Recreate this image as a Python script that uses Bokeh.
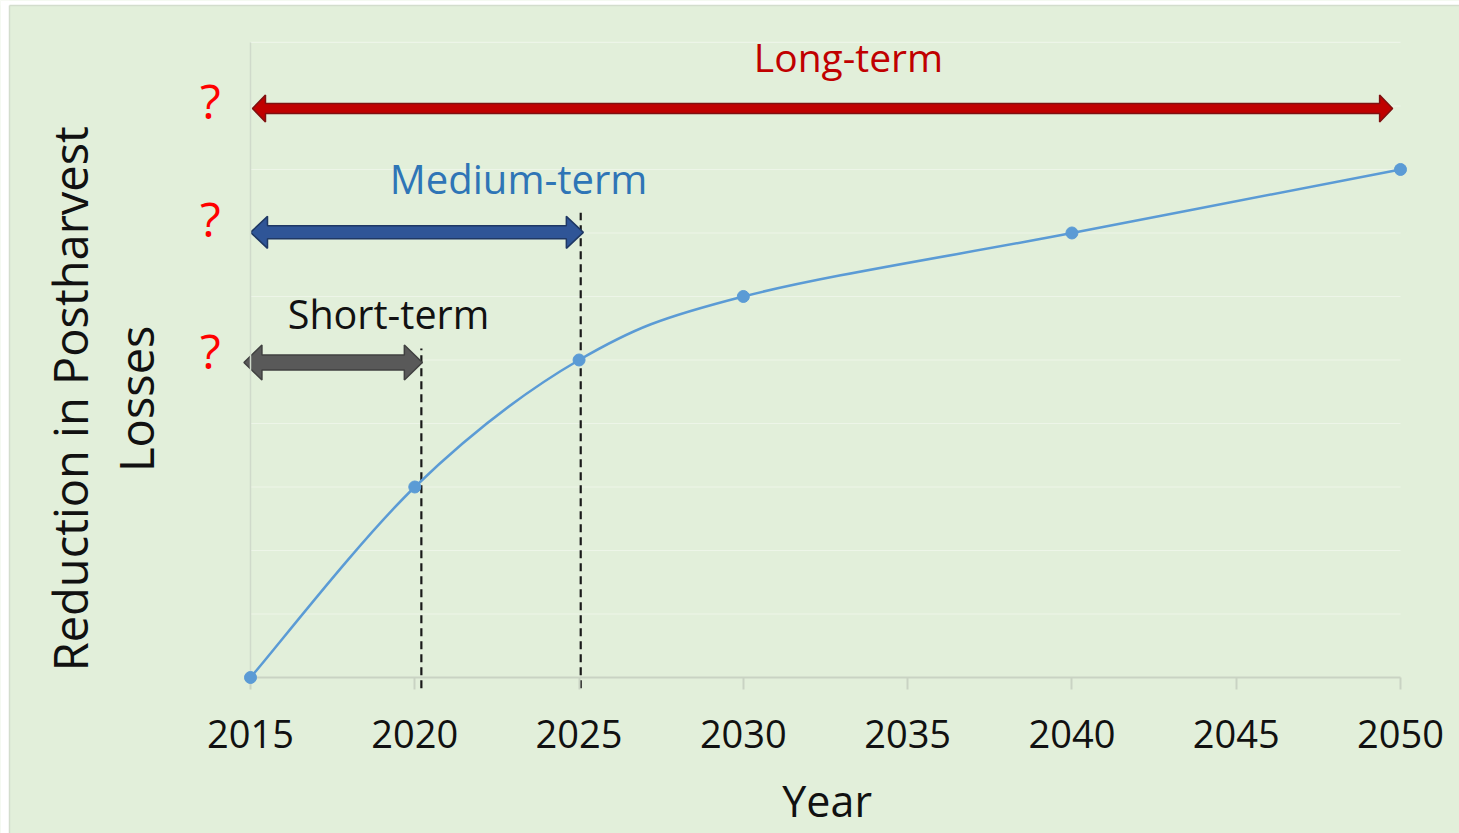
import numpy as np
from bokeh.plotting import figure
from bokeh.models import Label, FixedTicker
from bokeh.embed import file_html
from bokeh.resources import INLINE

# ---------------- data ----------------
years = [2015, 2020, 2025, 2030, 2040, 2050]
reduction = [0, 3, 5, 6, 7, 8]
tick_years = [2015, 2020, 2025, 2030, 2035, 2040, 2045, 2050]
grid_levels = [1, 2, 3, 4, 5, 6, 7, 8, 9, 10]

terms = ["Short-term", "Medium-term", "Long-term"]
term_start = [2014.8, 2015.0, 2015.06]
term_end = [2020.23, 2025.13, 2049.76]
term_level = [4.96, 7.01, 8.96]
term_label_x = [2019.2, 2023.16, 2033.2]
term_label_y = [5.72, 7.86, 9.78]
question_y = [5.15, 7.23, 9.09]
period_end_x = [2020.2, 2025.05]
period_end_top = [5.18, 7.32]

# ---------------- styles ----------------
BG = "#E2EFDA"
LINE_BLUE = "#5B9BD5"
term_fill = ["#595959", "#2F5597", "#C00000"]
term_edge = ["#404040", "#1F3864", "#7F1010"]
term_text = ["#111111", "#2E75B6", "#C00000"]
term_font = ["39.5px", "40px", "39px"]
arrow_px = [(15, 35, 18), (13, 32, 17), (10, 27, 13)]  # shaft, head height, head length

W, H = 1459, 833
x_rng = (2007.391, 2051.796)
y_rng = (-2.4567, 10.661)
XS = W / (x_rng[1] - x_rng[0])
YS = H / (y_rng[1] - y_rng[0])

p = figure(width=W, height=H, x_range=x_rng, y_range=y_rng,
           output_backend="svg", toolbar_location=None,
           min_border_left=0, min_border_right=0,
           min_border_top=0, min_border_bottom=0)
p.background_fill_color = BG
p.border_fill_color = BG
p.outline_line_color = None
p.xgrid.visible = False
p.ygrid.visible = False

# white page edge (top and left) like the reference image
edge_x = x_rng[0] + 9 / XS
edge_y = y_rng[1] - 5 / YS
p.quad(left=[x_rng[0], x_rng[0]], right=[edge_x, x_rng[1]],
       bottom=[y_rng[0], edge_y], top=[y_rng[1], y_rng[1]],
       fill_color="white", line_color=None)
p.segment(x0=[edge_x, edge_x], y0=[y_rng[0], edge_y], x1=[edge_x, x_rng[1]], y1=[edge_y, edge_y],
          line_color="#D3DDCD", line_width=1.5)

# gridlines
p.segment(x0=[tick_years[0]] * len(grid_levels), x1=[tick_years[-1]] * len(grid_levels),
          y0=grid_levels, y1=grid_levels, line_color="#EDF5E8", line_width=1.2)

# x axis
xa = p.xaxis[0]
xa.fixed_location = 0
xa.bounds = (tick_years[0], tick_years[-1])
xa.ticker = FixedTicker(ticks=tick_years)
xa.axis_line_color = "#C9D3C3"
xa.axis_line_width = 2
xa.major_tick_line_color = "#C9D3C3"
xa.major_tick_line_width = 2
xa.major_tick_out = 12
xa.major_tick_in = 0
xa.minor_tick_out = 0
xa.minor_tick_in = 0
xa.major_label_text_font = "Open Sans"
xa.major_label_text_font_size = "38px"
xa.major_label_text_color = "#111111"
xa.major_label_standoff = 31

# y axis
ya = p.yaxis[0]
ya.fixed_location = tick_years[0]
ya.bounds = (0, grid_levels[-1])
ya.ticker = FixedTicker(ticks=[])
ya.axis_line_color = "#D0DACB"
ya.axis_line_width = 1.5
ya.major_tick_out = 0
ya.major_tick_in = 0
ya.minor_tick_out = 0
ya.minor_tick_in = 0

# dashed period-end lines
p.segment(x0=period_end_x, x1=period_end_x, y0=[-0.17] * 2, y1=period_end_top,
          line_color="#1A1A1A", line_width=2.2, line_dash="8 5")

# smooth curve (Excel-like Bezier smoothing)
xs = np.array(years, dtype=float)
ys = np.array(reduction, dtype=float)
n = len(xs)
xp = np.concatenate([[xs[0]], xs, [xs[-1]]])
yp = np.concatenate([[ys[0]], ys, [ys[-1]]])
cx0 = xs[:-1] + (xp[2:n + 1] - xp[0:n - 1]) / 6
cy0 = ys[:-1] + (yp[2:n + 1] - yp[0:n - 1]) / 6
cx1 = xs[1:] - (xp[3:n + 2] - xp[1:n]) / 6
cy1 = ys[1:] - (yp[3:n + 2] - yp[1:n]) / 6
p.bezier(x0=xs[:-1], y0=ys[:-1], x1=xs[1:], y1=ys[1:],
         cx0=cx0, cy0=cy0, cx1=cx1, cy1=cy1, line_color=LINE_BLUE, line_width=2.5)
p.scatter(years, reduction, size=12, color=LINE_BLUE, level="overlay")

# double-headed arrows
pxs, pys = [], []
for x0, x1, yv, (sh, hh, hl) in zip(term_start, term_end, term_level, arrow_px):
    dl = hl / XS
    s2 = sh / 2 / YS
    h2 = hh / 2 / YS
    pxs.append([x0, x0 + dl, x0 + dl, x1 - dl, x1 - dl, x1, x1 - dl, x1 - dl, x0 + dl, x0 + dl])
    pys.append([yv, yv + h2, yv + s2, yv + s2, yv + h2, yv, yv - h2, yv - s2, yv - s2, yv - h2])
p.patches(pxs, pys, fill_color=term_fill, line_color=term_edge, line_width=1.5)

# term labels and question marks
for t, lx, ly, col, fs in zip(terms, term_label_x, term_label_y, term_text, term_font):
    p.add_layout(Label(x=lx, y=ly, text=t, text_font="Open Sans", text_font_size=fs,
                       text_color=col, text_align="center", text_baseline="middle"))
for qy in question_y:
    p.add_layout(Label(x=2013.78, y=qy, text="?", text_font="Open Sans", text_font_size="48px",
                       text_color="#FF0000", text_align="center", text_baseline="middle"))

# axis titles
p.add_layout(Label(x=2032.55, y=-1.94, text="Year", text_font="Open Sans", text_font_size="43px",
                   text_color="#111111", text_align="center", text_baseline="middle"))
p.add_layout(Label(x=2009.5, y=4.39, text="Reduction in Postharvest", angle=np.pi / 2,
                   text_font="Open Sans", text_font_size="47px", text_color="#111111",
                   text_align="center", text_baseline="middle"))
p.add_layout(Label(x=2011.53, y=4.39, text="Losses", angle=np.pi / 2,
                   text_font="Open Sans", text_font_size="47px", text_color="#111111",
                   text_align="center", text_baseline="middle"))

open("out.html", "w").write(file_html(p, INLINE))
